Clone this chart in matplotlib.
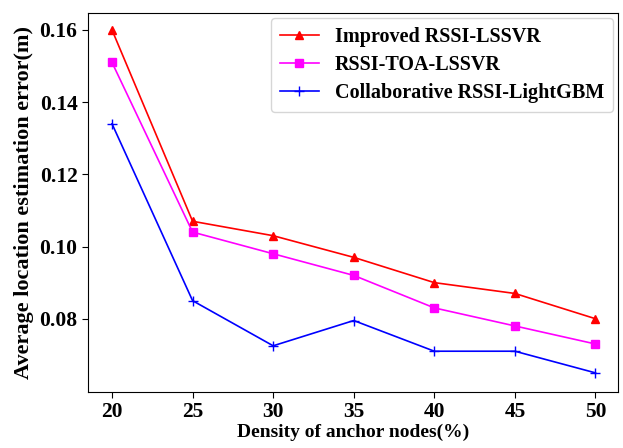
import matplotlib.pyplot as plt

plt.rcParams['font.family'] = ['Liberation Serif']
plt.rcParams['font.weight'] = 'bold'

density = [20, 25, 30, 35, 40, 45, 50]
improved = [0.160, 0.107, 0.103, 0.097, 0.090, 0.087, 0.080]
toa = [0.151, 0.104, 0.098, 0.092, 0.083, 0.078, 0.073]
lightgbm = [0.134, 0.085, 0.0725, 0.0795, 0.071, 0.071, 0.065]

fig = plt.figure(figsize=(6.23, 4.48), dpi=100)
ax = fig.add_axes([0.141, 0.125, 0.851, 0.846])

ax.plot(density, improved, color='red', marker='^', markersize=5.5, lw=1.2,
        label='Improved RSSI-LSSVR')
ax.plot(density, toa, color='magenta', marker='s', markersize=5.5, lw=1.2,
        label='RSSI-TOA-LSSVR')
ax.plot(density, lightgbm, color='blue', marker='+', markersize=7, lw=1.2,
        label='Collaborative RSSI-LightGBM')

ax.set_xlim(18.5, 51.4)
ax.set_ylim(0.0597, 0.1647)
ax.set_xticks(density)
ax.set_yticks([0.08, 0.10, 0.12, 0.14, 0.16])
ax.tick_params(labelsize=15.5, direction='out', length=4)
for lbl in ax.get_xticklabels() + ax.get_yticklabels():
    lbl.set_fontweight('bold')

ax.set_xlabel('Density of anchor nodes(%)', fontsize=14, fontweight='bold', labelpad=1)
ax.set_ylabel('Average location estimation error(m)', fontsize=16, fontweight='bold',
              labelpad=4)

leg = ax.legend(loc='upper right', prop={'weight': 'bold', 'size': 14.5},
                handlelength=1.9, borderpad=0.45, labelspacing=0.4,
                borderaxespad=0.25)
leg.get_frame().set_edgecolor('#cccccc')

fig.savefig('out.png', dpi=100)
